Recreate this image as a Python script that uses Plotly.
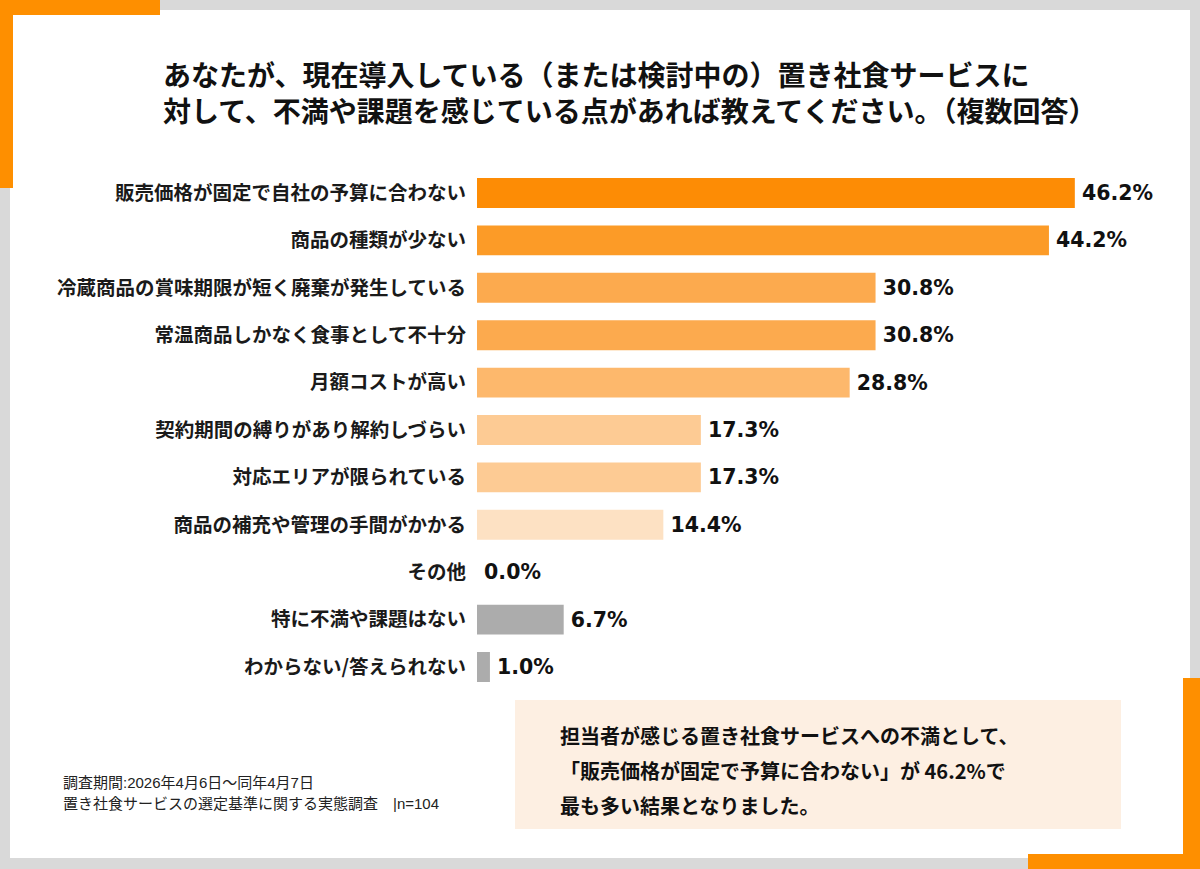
import plotly.graph_objects as go

# survey answers, top to bottom
categories = [
    "販売価格が固定で自社の予算に合わない",
    "商品の種類が少ない",
    "冷蔵商品の賞味期限が短く廃棄が発生している",
    "常温商品しかなく食事として不十分",
    "月額コストが高い",
    "契約期間の縛りがあり解約しづらい",
    "対応エリアが限られている",
    "商品の補充や管理の手間がかかる",
    "その他",
    "特に不満や課題はない",
    "わからない/答えられない",
]
values = [46.2, 44.2, 30.8, 30.8, 28.8, 17.3, 17.3, 14.4, 0.0, 6.7, 1.0]

bar_colors = [
    "#fd8c05", "#fc9b27", "#fcaa4e", "#fcaa4e", "#fdb86c",
    "#fdcb94", "#fdcb94", "#fde1c3", "#fde1c3", "#acacac", "#acacac",
]

title_lines = [
    "あなたが、現在導入している（または検討中の）置き社食サービスに",
    "対して、不満や課題を感じている点があれば教えてください。（複数回答）",
]
note_lines = [
    "調査期間:2026年4月6日～同年4月7日",
    "置き社食サービスの選定基準に関する実態調査　|n=104",
]
callout_lines = [
    "担当者が感じる置き社食サービスへの不満として、",
    "「販売価格が固定で予算に合わない」が 46.2%で",
    "最も多い結果となりました。",
]

W, H = 1200, 869
FONT = "Noto Sans CJK JP"
ORANGE = "#fe8f00"


def px(x):
    return x / W


def py(y):
    return 1 - y / H


fig = go.Figure(go.Bar(
    x=values,
    y=categories,
    orientation="h",
    marker=dict(color=bar_colors, line=dict(width=0)),
    texttemplate="\u2009%{x:.1f}%",
    textposition="outside",
    textfont=dict(family="DejaVu Sans", size=20.5, color="#111111", weight="bold"),
    cliponaxis=False,
    hoverinfo="skip",
))

# plot area: bars start at x=477, 12.94 px per percent
x0, x1 = 477, 1170
fig.update_xaxes(domain=[px(x0), px(x1)], range=[0, (x1 - x0) / 12.94],
                 visible=False, fixedrange=True)
fig.update_yaxes(domain=[py(690.7), py(169.3)], range=[10.5, -0.5],
                 showgrid=False, showline=False, zeroline=False, ticks="",
                 ticklabelstandoff=10, fixedrange=True,
                 tickfont=dict(family=FONT, size=19.5, color="#1a1a1a", weight="bold"))

shapes = [
    # white card
    dict(x0=px(10), x1=px(1190), y0=py(858), y1=py(10), fillcolor="white"),
    # orange corners
    dict(x0=px(0), x1=px(160), y0=py(15), y1=py(0), fillcolor=ORANGE),
    dict(x0=px(0), x1=px(13), y0=py(188), y1=py(0), fillcolor=ORANGE),
    dict(x0=px(1183), x1=px(1200), y0=py(869), y1=py(678), fillcolor=ORANGE),
    dict(x0=px(1028), x1=px(1200), y0=py(869), y1=py(854), fillcolor=ORANGE),
    # callout box
    dict(x0=px(515), x1=px(1121), y0=py(829), y1=py(700), fillcolor="#fdefe2"),
]
for s in shapes:
    s.update(type="rect", xref="paper", yref="paper", layer="below",
             line=dict(width=0))

annotations = [
    dict(text="<br>".join(title_lines), x=px(161), y=py(92.5), align="left",
         font=dict(family=FONT, size=28, color="#111111", weight="bold")),
]
for i, t in enumerate(note_lines):
    annotations.append(dict(text=t, x=px(61), y=py(782 + 21 * i),
                            font=dict(family="Liberation Sans, " + FONT, size=15,
                                      color="#222222")))
for i, t in enumerate(callout_lines):
    annotations.append(dict(text=t, x=px(558), y=py(735 + 35 * i),
                            font=dict(family=FONT, size=20, color="#111111", weight="bold")))
for a in annotations:
    a.update(xref="paper", yref="paper", xanchor="left", yanchor="middle",
             showarrow=False)

fig.update_layout(
    width=W, height=H,
    margin=dict(l=0, r=0, t=0, b=0),
    paper_bgcolor="#d9d9d9",
    plot_bgcolor="rgba(0,0,0,0)",
    bargap=0.37,
    showlegend=False,
    shapes=shapes,
    annotations=annotations,
)

# drop the default page margin so the figure fills the window
fig.write_html("out.html", config={"displayModeBar": False},
               post_script="document.body.style.margin='0';")
